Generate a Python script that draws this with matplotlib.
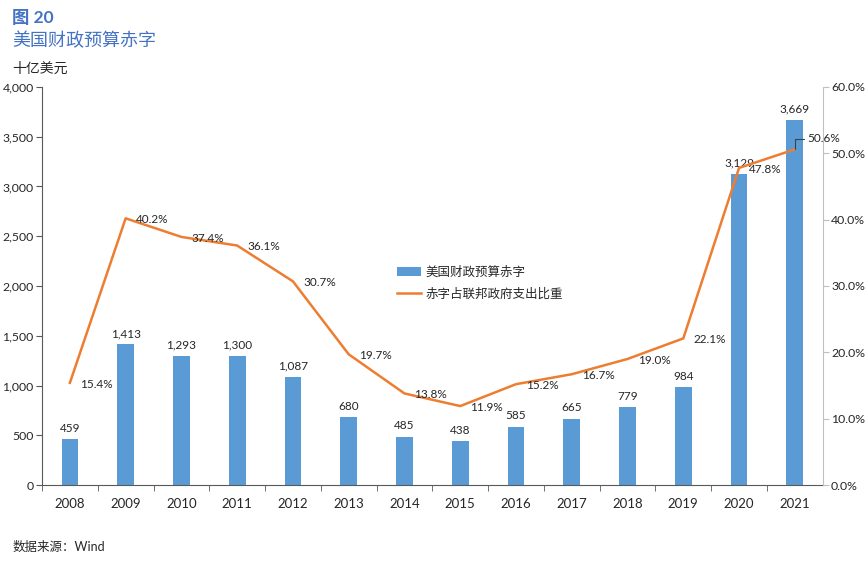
import matplotlib
matplotlib.use("Agg")
import matplotlib.pyplot as plt
from matplotlib.ticker import FuncFormatter, MultipleLocator

plt.rcParams['font.family'] = ['Lato', 'Noto Sans CJK SC', 'DejaVu Sans']

years = ['2008', '2009', '2010', '2011', '2012', '2013', '2014', '2015',
         '2016', '2017', '2018', '2019', '2020', '2021']
deficit = [459, 1413, 1293, 1300, 1087, 680, 485, 438, 585, 665, 779, 984, 3129, 3669]
ratio = [15.4, 40.2, 37.4, 36.1, 30.7, 19.7, 13.8, 11.9, 15.2, 16.7, 19.0, 22.1, 47.8, 50.6]

bar_color = '#5B9BD5'
line_color = '#ED7D31'
text_color = '#262626'

fig = plt.figure(figsize=(8.66, 5.66), dpi=100)
ax = fig.add_axes([0.0485, 0.1431, 0.9015, 0.7032])
ax2 = ax.twinx()

x = list(range(len(years)))
bars = ax.bar(x, deficit, width=0.3, color=bar_color, label='美国财政预算赤字', zorder=2)
line, = ax2.plot(x, ratio, color=line_color, lw=1.8, label='赤字占联邦政府支出比重', zorder=3)

ax.set_xlim(-0.5, len(years) - 0.5)
ax.set_ylim(0, 4000)
ax2.set_ylim(0, 60)
ax.yaxis.set_major_locator(MultipleLocator(500))
ax2.yaxis.set_major_locator(MultipleLocator(10))
ax.yaxis.set_major_formatter(FuncFormatter(lambda v, p: f'{int(v):,}'))
ax2.yaxis.set_major_formatter(FuncFormatter(lambda v, p: f'{v:.1f}%'))

ax.set_xticks(x)
ax.set_xticklabels(years)
ax.set_xticks([i + 0.5 for i in x[:-1]] + [-0.5], minor=True)
ax.tick_params(axis='x', which='major', length=0, pad=9, labelsize=9.5, labelcolor=text_color)
ax.tick_params(axis='x', which='minor', length=4, color='#595959', direction='out')
ax.tick_params(axis='y', length=4, pad=2, color='#595959', labelsize=8.8, labelcolor=text_color)
ax2.tick_params(axis='y', length=4, pad=2, color='#BFBFBF', labelsize=8.8, labelcolor=text_color)

ax.spines['top'].set_visible(False)
ax2.spines['top'].set_visible(False)
ax.spines['right'].set_visible(False)
ax2.spines['left'].set_visible(False)
ax2.spines['bottom'].set_visible(False)
ax.spines['left'].set_color('#595959')
ax.spines['bottom'].set_color('#595959')
ax2.spines['right'].set_color('#BFBFBF')

for xi, v in zip(x, deficit):
    ax.text(xi, v + 55, f'{v:,}', ha='center', va='bottom', fontsize=8.5, color=text_color)

for i, (xi, r) in enumerate(zip(x, ratio)):
    if i == len(x) - 1:
        ax2.annotate(f'{r:.1f}%', xy=(xi, r), xytext=(xi + 0.22, r + 1.6),
                     ha='left', va='center', fontsize=8.5, color=text_color,
                     arrowprops=dict(arrowstyle='-', color='#404040', lw=0.8,
                                     shrinkA=0, shrinkB=0,
                                     connectionstyle='angle,angleA=0,angleB=90,rad=0'))
    else:
        ax2.text(xi + 0.18, r - 0.2, f'{r:.1f}%', ha='left', va='center',
                 fontsize=8.5, color=text_color)

leg = ax.legend([bars, line], ['美国财政预算赤字', '赤字占联邦政府支出比重'],
                loc='upper left', bbox_to_anchor=(0.44, 0.58), frameon=False,
                fontsize=9, handlelength=1.9, handletextpad=0.4, labelspacing=0.75)
for t in leg.get_texts():
    t.set_color(text_color)

fig.text(0.014, 0.968, '图 20', fontsize=12.5, fontweight='bold', color='#4472C4', va='center')
fig.text(0.014, 0.928, '美国财政预算赤字', fontsize=13, color='#4472C4', va='center')
fig.text(0.014, 0.879, '十亿美元', fontsize=10, color=text_color, va='center')
fig.text(0.014, 0.034, '数据来源：Wind', fontsize=9, color=text_color, va='center')

fig.savefig('out.png', dpi=100)
